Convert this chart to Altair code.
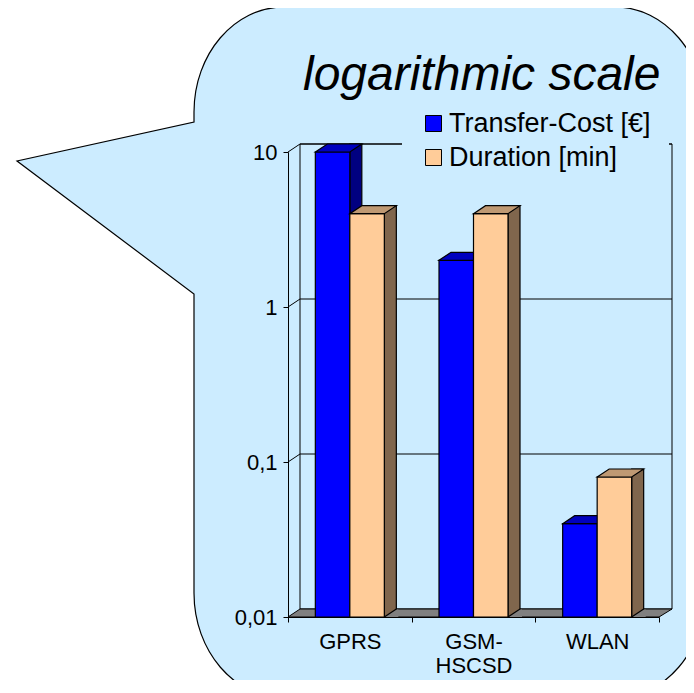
import altair as alt
import pandas as pd

# ---------------- data ----------------
categories = ["GPRS", "GSM-HSCSD", "WLAN"]
transfer_cost = [10, 2, 0.04]
duration = [4, 4, 0.08]
series_names = ["Transfer-Cost [€]", "Duration [min]"]
y_ticks = [0.01, 0.1, 1, 10]
grid_levels = [10, 1, 0.1]
title_text = "logarithmic scale"

# ---------------- styles ----------------
front_colors = ["#0000ff", "#ffcc99"]
top_colors = ["#0000bf", "#bf9973"]
side_colors = ["#000080", "#80664d"]
bubble_color = "#ccecff"
floor_color = "#808080"

FONT = "Liberation Sans, Arial, sans-serif"

W, H = 371, 465          # plot area
DX, DY = 12, -8          # 3D depth offset
BAR_W = 34.5
HW = BAR_W / 2
centers = [-HW, HW]      # pixel offset of each series inside its band
LW = 1.2

rows = []
for i, c in enumerate(categories):
    rows.append({"cat": c, "series": series_names[0], "value": transfer_cost[i]})
    rows.append({"cat": c, "series": series_names[1], "value": duration[i]})
df = pd.DataFrame(rows)
ticks_df = pd.DataFrame({"t": grid_levels})
one = pd.DataFrame({"k": [0]})

x_scale = alt.Scale(domain=categories, paddingInner=0, paddingOuter=0)
x_axis = alt.Axis(
    title=None, tickBand="extent", tickSize=5, tickColor="black", domainColor="black",
    labelAngle=0, labelFont=FONT, labelFontSize=22, labelColor="black", labelPadding=9,
    labelLineHeight=24, labelOverlap=False, labelBaseline="top",
    labelExpr="datum.value == 'GSM-HSCSD' ? ['GSM-', 'HSCSD'] : datum.label",
    zindex=1, grid=False,
)
y_scale = alt.Scale(type="log", domain=[0.01, 10], nice=False)
y_axis = alt.Axis(
    title=None, values=y_ticks, tickSize=5, tickColor="black", domainColor="black",
    labelFont=FONT, labelFontSize=22, labelColor="black", labelPadding=6,
    labelOverlap=False, labelExpr="replace(format(datum.value, '~g'), '.', ',')",
    zindex=1, grid=False,
)


def X():
    return alt.X("cat:N", scale=x_scale, axis=x_axis)


def Y(field="value"):
    return alt.Y(f"{field}:Q", scale=y_scale, axis=y_axis)


color_scale = alt.Scale(domain=series_names, range=front_colors)
legend = alt.Legend(
    title=None, orient="none", legendX=114, legendY=-60, padding=18,
    fillColor=bubble_color, symbolType="square", symbolSize=256,
    symbolStrokeColor="black", symbolStrokeWidth=1, symbolOpacity=1,
    labelFont=FONT, labelFontSize=27, labelColor="black", labelOffset=2,
    rowPadding=6, labelLimit=0,
)

# ---------------- decoration: speech bubble ----------------
BUBBLE = ("M-94,-40 A90,105 0 0 1 -4,-145 L327,-145 A90,105 0 0 1 417,-40 "
          "L417,441 A90,105 0 0 1 327,546 L-4,546 A90,105 0 0 1 -94,441 "
          "L-94,142 L-271,9 L-94,-30 Z")
bubble = alt.Chart(one).mark_point(
    shape=BUBBLE, size=4, filled=True, fill=bubble_color, stroke="black",
    strokeWidth=1.2, opacity=1,
).encode(x=alt.value(0), y=alt.value(0))

back_wall = alt.Chart(one).mark_rect(
    fill=bubble_color, stroke="black", strokeWidth=1, yOffset=DY, y2Offset=DY,
).encode(x=alt.value(DX), x2=alt.value(W + 13), y=alt.datum(10), y2=alt.datum(0.01))

grid = alt.Chart(ticks_df).mark_point(
    shape=f"M0,0L{DX},{DY}L{W + 13},{DY}", size=4, filled=False,
    stroke="black", strokeWidth=1, opacity=1,
).encode(x=alt.value(0), y=Y("t"))

floor = alt.Chart(one).mark_point(
    shape=f"M0,0L{DX},{DY}L{W + 13},{DY}L{W},0Z", size=4, filled=True,
    fill=floor_color, stroke="black", strokeWidth=1, opacity=1,
).encode(x=alt.value(0), y=alt.datum(0.01))

layers = [bubble, back_wall, grid, floor]

for s, cx, fc, tc, sc in zip(series_names, centers, front_colors, top_colors, side_colors):
    xl, xr = cx - HW, cx + HW
    sub = alt.Chart(df).transform_filter(alt.datum.series == s)
    side = sub.mark_bar(
        width=DX, xOffset=xr + DX / 2, yOffset=DY, fill=sc, stroke="black",
        strokeWidth=LW, opacity=1,
    ).encode(x=X(), y=Y(), y2=alt.datum(0.01))
    gray = sub.mark_point(
        shape=f"M{xr},0L{xr + 14},0L{xr + 14},-7.5L{xr + 11.25},-7.5Z", size=4,
        filled=True, fill=floor_color, strokeOpacity=0, opacity=1,
    ).encode(x=X(), y=alt.datum(0.01))
    diag = sub.mark_point(
        shape=f"M{xr},0L{xr + DX},{DY}", size=4, filled=False, stroke="black",
        strokeWidth=LW, opacity=1,
    ).encode(x=X(), y=alt.datum(0.01))
    front = sub.mark_bar(
        width=BAR_W, xOffset=cx, stroke="black", strokeWidth=LW, opacity=1,
    ).encode(
        x=X(), y=Y(), y2=alt.datum(0.01),
        color=alt.Color("series:N", scale=color_scale, legend=legend),
    )
    top = sub.mark_point(
        shape=f"M{xl},0L{xl + DX},{DY}L{xr + DX},{DY}L{xr},0Z", size=4, filled=True,
        fill=tc, stroke="black", strokeWidth=LW, opacity=1,
    ).encode(x=X(), y=Y())
    layers += [side, gray, diag, front, top]

title = alt.Chart(one).mark_text(
    text=title_text, font=FONT, fontSize=48, fontStyle="italic", align="left",
    baseline="alphabetic", color="black",
).encode(x=alt.value(15), y=alt.value(-62))
layers.append(title)

chart = alt.layer(*layers).properties(
    width=W, height=H,
    padding={"left": 280, "top": 144, "right": 27, "bottom": 63},
    autosize=alt.AutoSizeParams(type="none"),
).configure_view(stroke=None)

chart.save("out.html", embed_options={"renderer": "svg", "actions": False})
